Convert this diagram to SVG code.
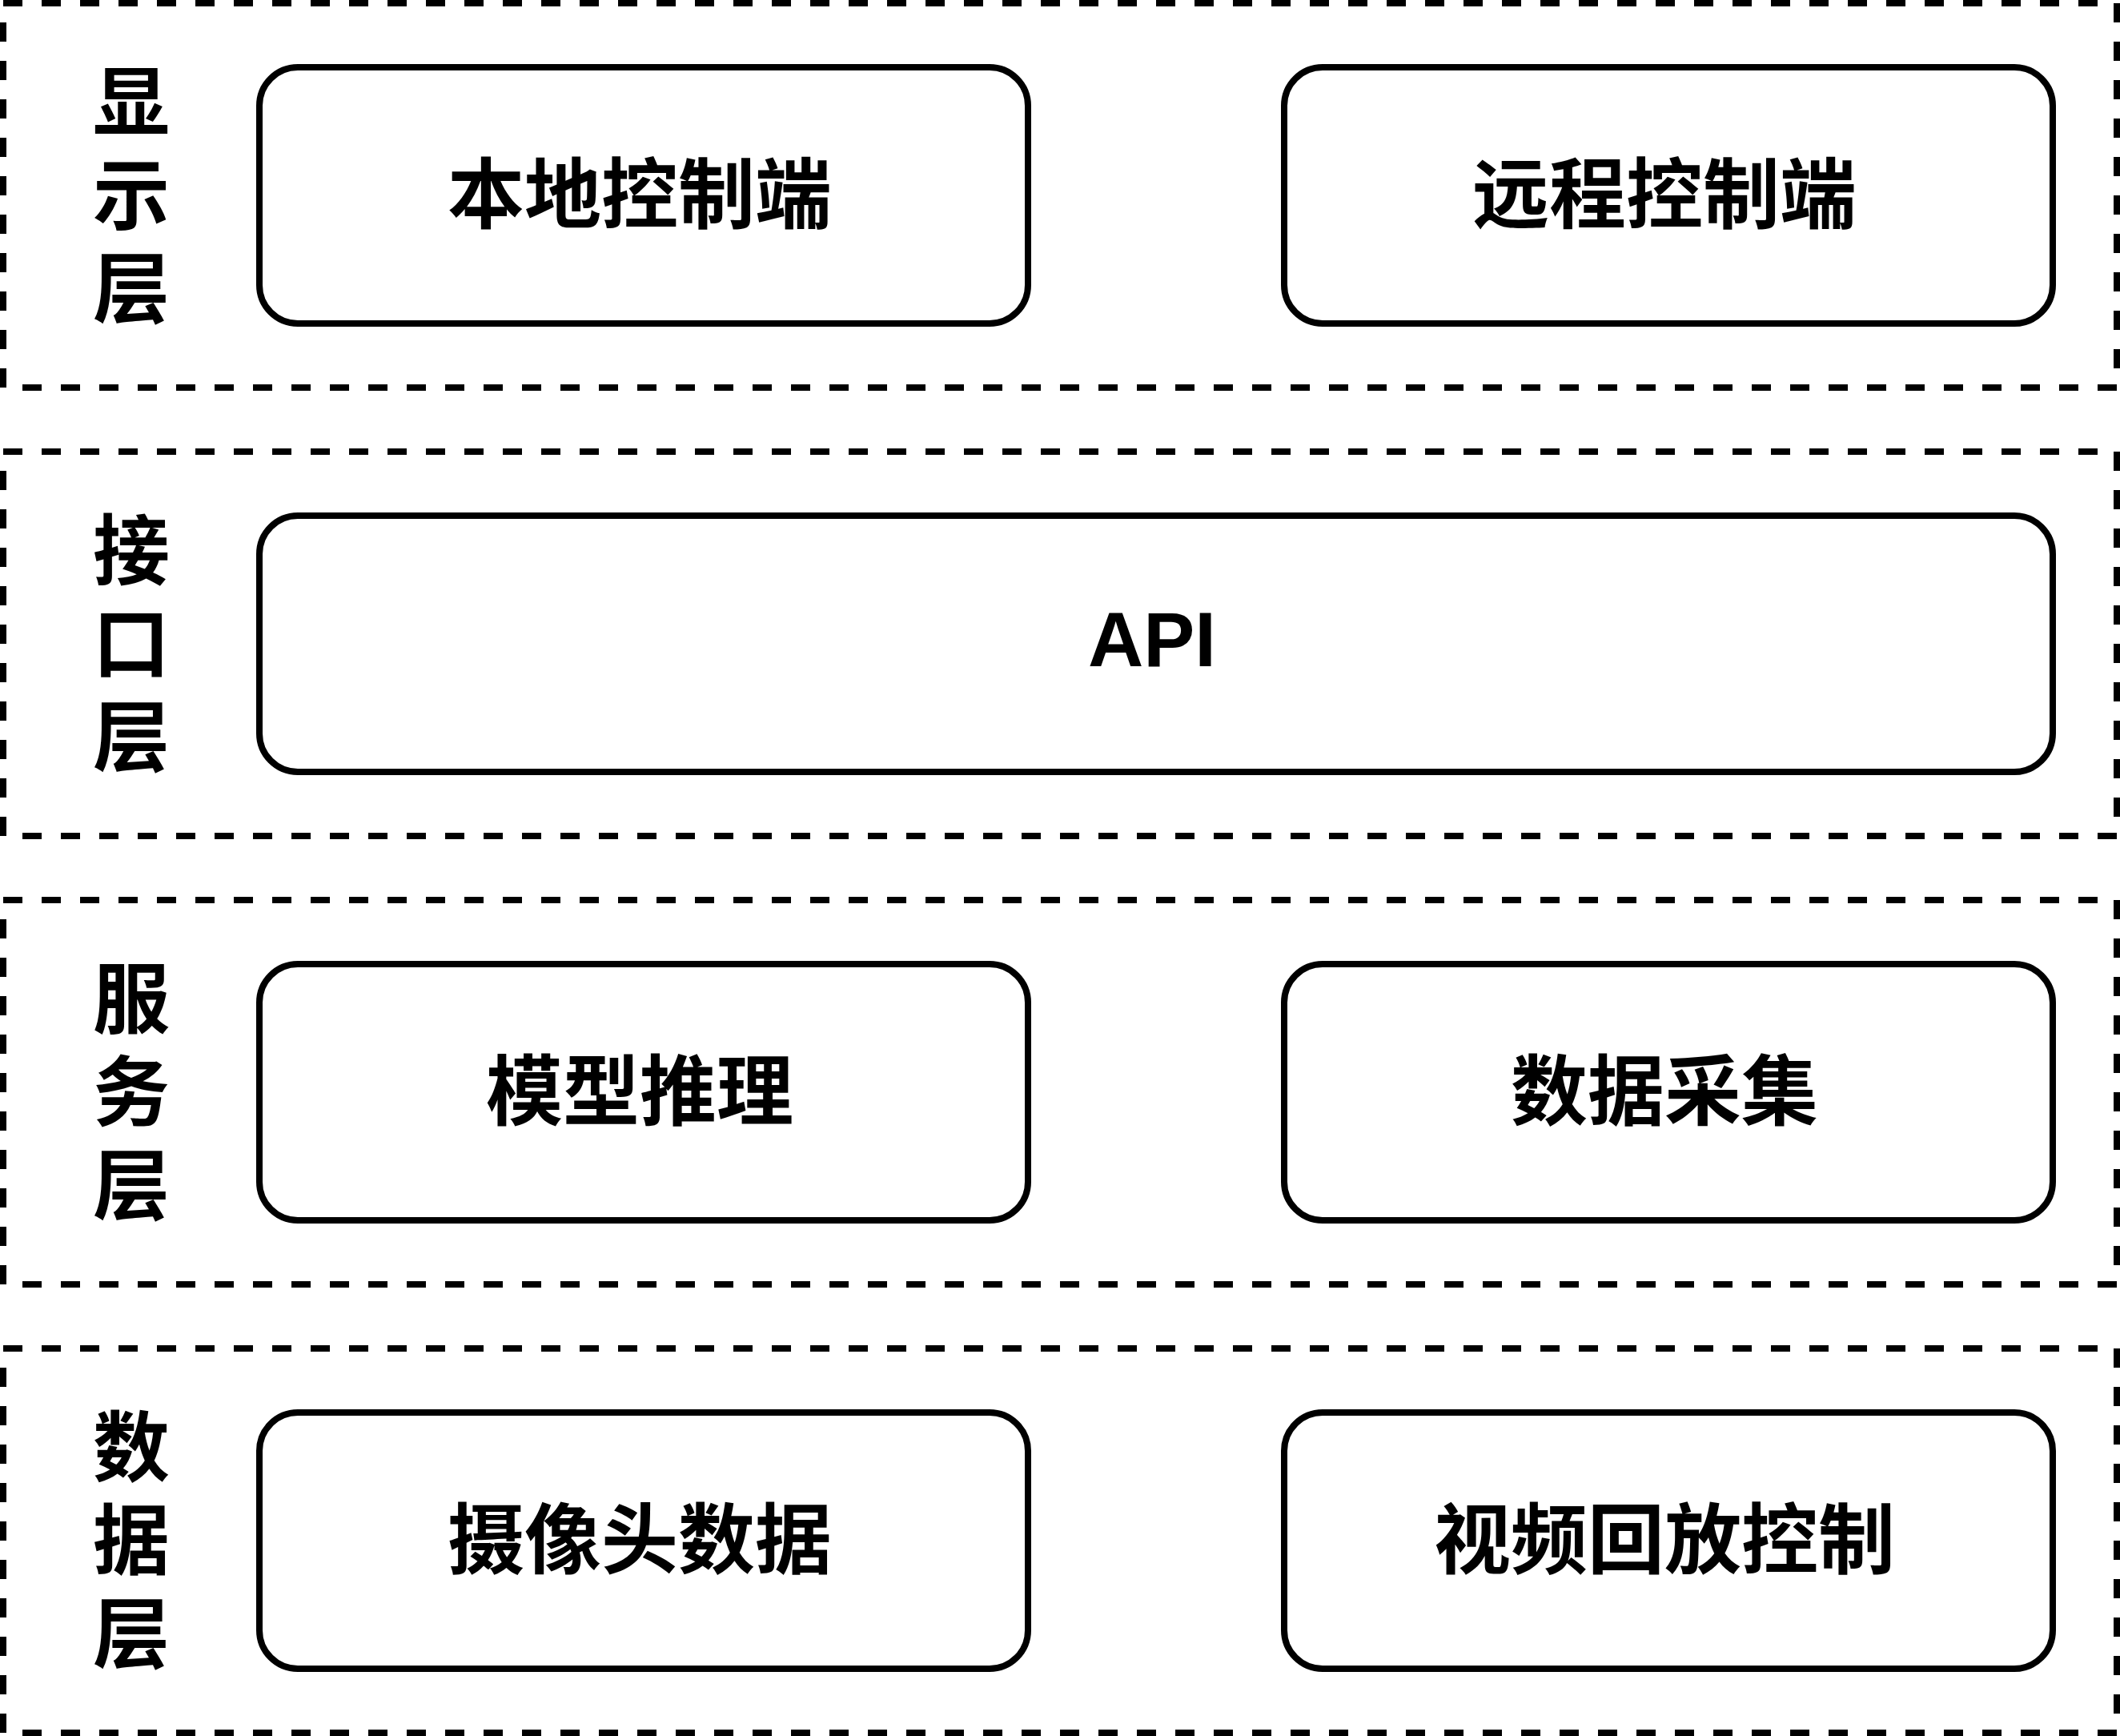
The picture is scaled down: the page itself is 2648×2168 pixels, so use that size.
<svg xmlns="http://www.w3.org/2000/svg" width="2648" height="2168" viewBox="0 0 2648 2168">
<style>
.layer{fill:none;stroke:#000;stroke-width:8;stroke-dasharray:24 24}
.box{fill:#fff;stroke:#000;stroke-width:8}
.t{font-family:"Liberation Sans","Noto Sans CJK SC",sans-serif;font-weight:bold;font-size:96px;fill:#000;text-anchor:middle}
</style>
<rect x="0" y="0" width="2648" height="2168" fill="#fff"/>
<g id="layer-display">
<rect class="layer" x="4" y="4" width="2640" height="480"/>
<text class="t" x="164"><tspan x="164" y="161.5">显</tspan><tspan x="164" y="278">示</tspan><tspan x="164" y="394.5">层</tspan></text>
</g>
<g id="node-local">
<rect class="box" x="324" y="84" width="960" height="320" rx="48" ry="48"/>
<text class="t" x="799" y="277">本地控制端</text>
</g>
<g id="node-remote">
<rect class="box" x="1604" y="84" width="960" height="320" rx="48" ry="48"/>
<text class="t" x="2079" y="277">远程控制端</text>
</g>
<g id="layer-interface">
<rect class="layer" x="4" y="564" width="2640" height="480"/>
<text class="t" x="164"><tspan x="164" y="721.5">接</tspan><tspan x="164" y="838">口</tspan><tspan x="164" y="954.5">层</tspan></text>
</g>
<g id="node-api">
<rect class="box" x="324" y="644" width="2240" height="320" rx="48" ry="48"/>
<text class="t" x="1439" y="832">API</text>
</g>
<g id="layer-service">
<rect class="layer" x="4" y="1124" width="2640" height="480"/>
<text class="t" x="164"><tspan x="164" y="1281.5">服</tspan><tspan x="164" y="1398">务</tspan><tspan x="164" y="1514.5">层</tspan></text>
</g>
<g id="node-infer">
<rect class="box" x="324" y="1204" width="960" height="320" rx="48" ry="48"/>
<text class="t" x="799" y="1397">模型推理</text>
</g>
<g id="node-collect">
<rect class="box" x="1604" y="1204" width="960" height="320" rx="48" ry="48"/>
<text class="t" x="2079" y="1397">数据采集</text>
</g>
<g id="layer-data">
<rect class="layer" x="4" y="1684" width="2640" height="480"/>
<text class="t" x="164"><tspan x="164" y="1841.5">数</tspan><tspan x="164" y="1958">据</tspan><tspan x="164" y="2074.5">层</tspan></text>
</g>
<g id="node-camera">
<rect class="box" x="324" y="1764" width="960" height="320" rx="48" ry="48"/>
<text class="t" x="799" y="1957">摄像头数据</text>
</g>
<g id="node-playback">
<rect class="box" x="1604" y="1764" width="960" height="320" rx="48" ry="48"/>
<text class="t" x="2079" y="1957">视频回放控制</text>
</g>
<g id="connectors"/>
</svg>
